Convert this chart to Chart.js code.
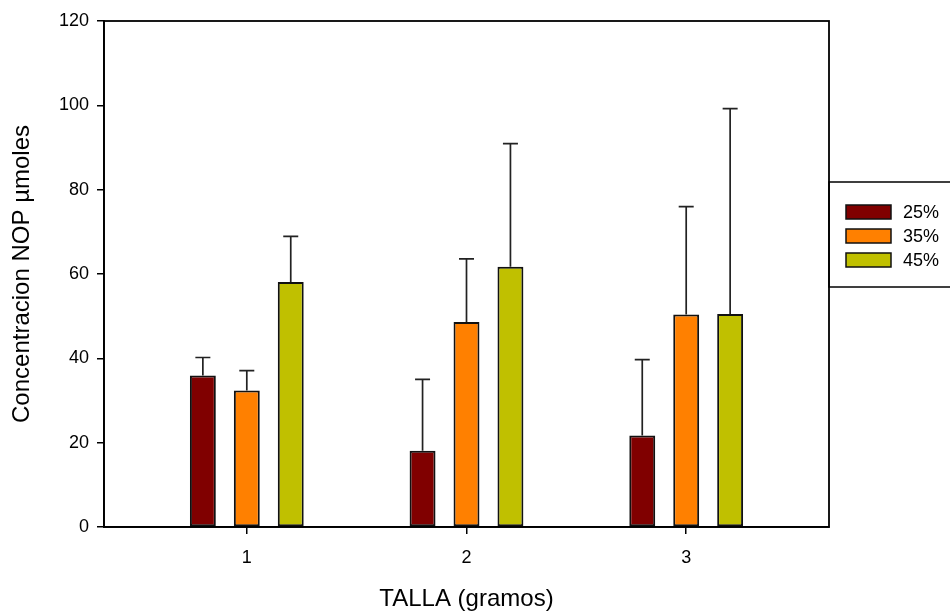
<!DOCTYPE html>
<html>
<head>
<meta charset="utf-8">
<script src="https://cdn.jsdelivr.net/npm/chart.js@4"></script>
<style>
  html, body { margin: 0; padding: 0; background: #fff; }
  canvas { display: block; }
</style>
</head>
<body>
<canvas id="chart" width="950" height="611"></canvas>
<script>
// Size classes (x positions) and their labels
const categories = ['1', '2', '3'];
const xPositions = [1, 2, 3];
// Diet levels
const seriesLabels = ['25%', '35%', '45%'];
// Mean NOP concentration per size class
const mean25 = [35.9, 18.1, 21.7];
const mean35 = [32.4, 48.6, 50.4];
const mean45 = [58.1, 61.7, 50.5];
// Upper end of each error bar
const upper25 = [40.2, 35.0, 39.7];
const upper35 = [37.1, 63.6, 76.0];
const upper45 = [68.9, 90.9, 99.2];
// Y axis tick values
const yTicks = [0, 20, 40, 60, 80, 100, 120];

const FONT = '"Liberation Sans", Arial, sans-serif';
const colors = ['#800000', '#FF8000', '#C0C000'];
const means = [mean25, mean35, mean45];
const uppers = [upper25, upper35, upper45];

const datasets = seriesLabels.map((label, s) => ({
  label: label,
  data: xPositions.map((x, i) => ({ x: x, y: means[s][i] })),
  upper: uppers[s],
  backgroundColor: colors[s],
  borderColor: '#111',
  borderWidth: 2,
  borderSkipped: false,
  categoryPercentage: 0.6,
  barPercentage: 0.59
}));

// Upward-only error bars with a cap
const errorBars = {
  id: 'errorBars',
  afterDatasetsDraw(chart) {
    const ctx = chart.ctx;
    const yScale = chart.scales.y;
    ctx.save();
    ctx.strokeStyle = '#222';
    ctx.lineWidth = 1.7;
    chart.data.datasets.forEach((ds, d) => {
      const meta = chart.getDatasetMeta(d);
      meta.data.forEach((bar, i) => {
        const yTop = yScale.getPixelForValue(ds.upper[i]);
        ctx.beginPath();
        ctx.moveTo(bar.x, bar.y);
        ctx.lineTo(bar.x, yTop);
        ctx.moveTo(bar.x - 7.5, yTop);
        ctx.lineTo(bar.x + 7.5, yTop);
        ctx.stroke();
      });
    });
    ctx.restore();
  }
};

// Box around the plotting area
const frame = {
  id: 'frame',
  afterDraw(chart) {
    const a = chart.chartArea;
    const ctx = chart.ctx;
    ctx.save();
    ctx.strokeStyle = '#000';
    ctx.lineWidth = 1.8;
    ctx.strokeRect(a.left, a.top, a.right - a.left, a.bottom - a.top);
    ctx.restore();
  }
};

// Boxed legend to the right of the plot
const boxLegend = {
  id: 'boxLegend',
  afterDraw(chart) {
    const ctx = chart.ctx;
    const a = chart.chartArea;
    const left = a.right;
    const top = 182;
    const bottom = 287;
    ctx.save();
    ctx.strokeStyle = '#000';
    ctx.lineWidth = 1.5;
    ctx.strokeRect(left, top, 960 - left, bottom - top);
    ctx.font = '18px ' + FONT;
    ctx.textBaseline = 'middle';
    ctx.textAlign = 'left';
    chart.data.datasets.forEach((ds, i) => {
      const cy = 212 + i * 24;
      ctx.fillStyle = ds.backgroundColor;
      ctx.fillRect(846, cy - 7, 45, 14);
      ctx.lineWidth = 1.5;
      ctx.strokeStyle = '#111';
      ctx.strokeRect(846, cy - 7, 45, 14);
      ctx.fillStyle = '#000';
      ctx.fillText(ds.label, 903, cy + 1);
    });
    ctx.restore();
  }
};

new Chart(document.getElementById('chart'), {
  type: 'bar',
  data: { datasets: datasets },
  options: {
    responsive: false,
    animation: false,
    layout: { padding: { top: 21, right: 121, left: 0, bottom: 0 } },
    plugins: {
      legend: { display: false },
      tooltip: { enabled: false }
    },
    scales: {
      x: {
        type: 'linear',
        min: 0.35,
        max: 3.65,
        offset: false,
        afterBuildTicks(scale) {
          scale.ticks = xPositions.map(v => ({ value: v }));
        },
        afterFit(scale) { scale.height = 84; },
        grid: {
          offset: false,
          drawOnChartArea: false,
          drawTicks: true,
          tickLength: 7,
          color: '#000',
          lineWidth: 1.5
        },
        border: { display: true, color: '#000', width: 1.8 },
        ticks: {
          padding: 13,
          color: '#000',
          font: { family: FONT, size: 18 },
          maxRotation: 0,
          callback: (v) => categories[xPositions.indexOf(v)]
        },
        title: {
          display: true,
          text: 'TALLA (gramos)',
          color: '#000',
          font: { family: FONT, size: 24 },
          padding: { top: 0, bottom: -3 }
        }
      },
      y: {
        type: 'linear',
        min: 0,
        max: 120,
        afterBuildTicks(scale) {
          scale.ticks = yTicks.map(v => ({ value: v }));
        },
        afterFit(scale) { scale.width = 104; },
        grid: {
          drawOnChartArea: false,
          drawTicks: true,
          tickLength: 7,
          color: '#000',
          lineWidth: 1.5
        },
        border: { display: true, color: '#000', width: 1.8 },
        ticks: {
          padding: 8,
          color: '#000',
          font: { family: FONT, size: 18 }
        },
        title: {
          display: true,
          text: 'Concentracion NOP µmoles',
          color: '#000',
          font: { family: FONT, size: 24 },
          padding: { top: 8, bottom: 0 }
        }
      }
    }
  },
  plugins: [errorBars, frame, boxLegend]
});
</script>
</body>
</html>
